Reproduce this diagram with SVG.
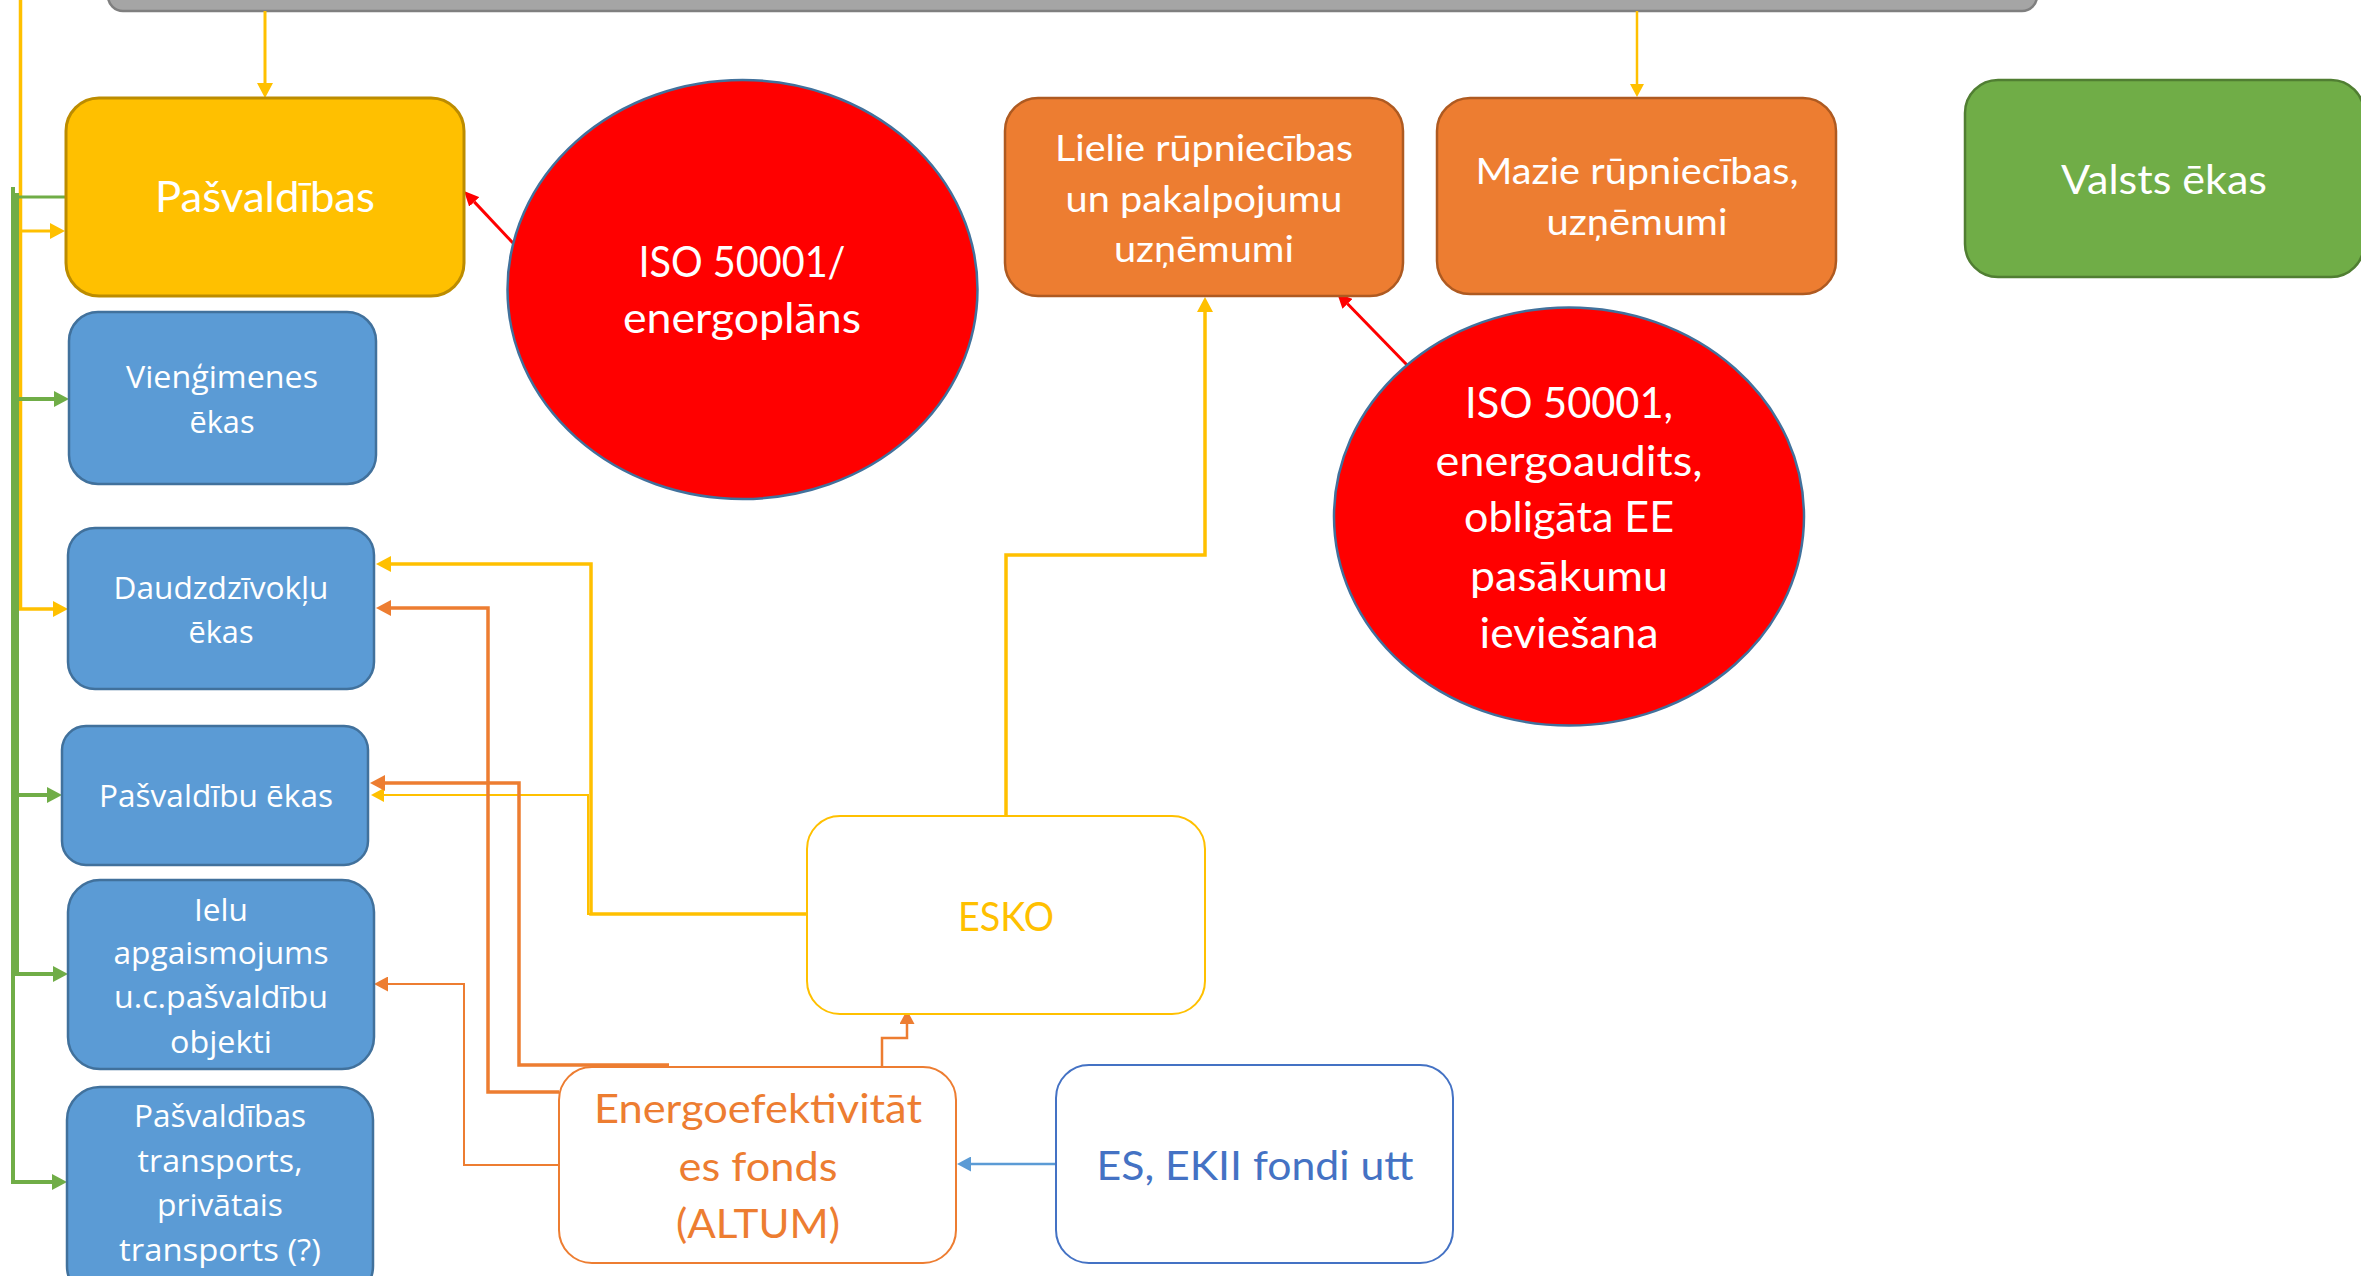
<svg xmlns="http://www.w3.org/2000/svg" width="2361" height="1276" viewBox="0 0 2361 1276">
  <style>
    .cal { font-family: "Lato", "Open Sans", "Liberation Sans", sans-serif; text-anchor: middle; }
    .seg { font-family: "Open Sans", "Noto Sans", "Liberation Sans", sans-serif; text-anchor: middle; font-size: 30.5px; fill: #ffffff; }
    .wt { fill: #ffffff; }
    .blue-box { fill: #5b9bd5; stroke: #41719c; stroke-width: 2.5; }
    .orange-box { fill: #ed7d31; stroke: #ae5a21; stroke-width: 2.5; }
    .circle { fill: #ff0000; stroke: #41719c; stroke-width: 2.5; }
    .conn { fill: none; stroke-linejoin: miter; }
    .y { stroke: #ffc000; }
    .g { stroke: #70ad47; }
    .o { stroke: #ed7d31; }
    .r { stroke: #ff0000; }
    .b { stroke: #5b9bd5; }
  </style>
  <defs>
    <marker id="ay" markerUnits="userSpaceOnUse" markerWidth="15" markerHeight="16" viewBox="0 0 15 16" refX="0" refY="8" orient="auto"><path d="M0,0 L15,8 L0,16 z" fill="#ffc000"/></marker>
    <marker id="ays" markerUnits="userSpaceOnUse" markerWidth="13" markerHeight="14" viewBox="0 0 13 14" refX="0" refY="7" orient="auto"><path d="M0,0 L13,7 L0,14 z" fill="#ffc000"/></marker>
    <marker id="ag" markerUnits="userSpaceOnUse" markerWidth="15" markerHeight="16" viewBox="0 0 15 16" refX="0" refY="8" orient="auto"><path d="M0,0 L15,8 L0,16 z" fill="#70ad47"/></marker>
    <marker id="ao" markerUnits="userSpaceOnUse" markerWidth="15" markerHeight="16" viewBox="0 0 15 16" refX="0" refY="8" orient="auto"><path d="M0,0 L15,8 L0,16 z" fill="#ed7d31"/></marker>
    <marker id="aos" markerUnits="userSpaceOnUse" markerWidth="14" markerHeight="15" viewBox="0 0 14 15" refX="0" refY="7.5" orient="auto"><path d="M0,0 L14,7.5 L0,15 z" fill="#ed7d31"/></marker>
    <marker id="ar" markerUnits="userSpaceOnUse" markerWidth="15" markerHeight="14" viewBox="0 0 15 14" refX="0" refY="7" orient="auto"><path d="M0,0 L15,7 L0,14 z" fill="#ff0000"/></marker>
    <marker id="ab" markerUnits="userSpaceOnUse" markerWidth="14" markerHeight="15" viewBox="0 0 14 15" refX="0" refY="7.5" orient="auto"><path d="M0,0 L14,7.5 L0,15 z" fill="#5b9bd5"/></marker>
  </defs>

  <rect width="2361" height="1276" fill="#ffffff"/>

  <!-- top bar (cut by the page edge) -->
  <g id="top-bar">
    <rect x="108" y="-40" width="1929" height="51" rx="15" fill="#a5a5a5" stroke="#7f7f7f" stroke-width="2.5"/>
  </g>

  <!-- connectors -->
  <g id="connectors">
    <!-- yellow -->
    <path class="conn y" stroke-width="3" d="M265,11 V83" marker-end="url(#ay)"/>
    <path class="conn y" stroke-width="2.5" d="M1637,11 V84" marker-end="url(#ays)"/>
    <path class="conn y" stroke-width="3.5" d="M20.5,-5 V609 H53" marker-end="url(#ay)"/>
    <path class="conn y" stroke-width="3" d="M20.5,231 H50" marker-end="url(#ay)"/>
    <path class="conn y" stroke-width="3.5" d="M1006,816 V555 H1205 V312" marker-end="url(#ay)"/>
    <path class="conn y" stroke-width="3.5" d="M807,914 H591 V564 H391" marker-end="url(#ay)"/>
    <path class="conn y" stroke-width="2" d="M591,914 H588 V795 H384" marker-end="url(#ays)"/>
    <!-- green -->
    <path class="conn g" stroke-width="3" d="M66,197 H13"/>
    <path class="conn g" stroke-width="4" d="M13,187 V1182 H52" marker-end="url(#ag)"/>
    <path class="conn g" stroke-width="4" d="M17,193 V974 H53" marker-end="url(#ag)"/>
    <path class="conn g" stroke-width="4" d="M17,399 H54" marker-end="url(#ag)"/>
    <path class="conn g" stroke-width="4" d="M17,795 H47" marker-end="url(#ag)"/>
    <!-- orange -->
    <path class="conn o" stroke-width="3.5" d="M559,1092 H488 V608 H391" marker-end="url(#ao)"/>
    <path class="conn o" stroke-width="3.5" d="M669,1065 H519 V783 H385" marker-end="url(#ao)"/>
    <path class="conn o" stroke-width="2" d="M559,1165 H464 V984 H388" marker-end="url(#aos)"/>
    <path class="conn o" stroke-width="2.5" d="M882,1067 V1038 H907 V1024" marker-end="url(#aos)"/>
    <!-- red -->
    <path class="conn r" stroke-width="3" d="M513,243 L474.3,201.9" marker-end="url(#ar)"/>
    <path class="conn r" stroke-width="3" d="M1408,366 L1347.5,303.8" marker-end="url(#ar)"/>
    <!-- blue -->
    <path class="conn b" stroke-width="2.5" d="M1056,1164 H971" marker-end="url(#ab)"/>
  </g>

  <g id="pasvaldibas">
    <rect x="66" y="98" width="398" height="198" rx="33" fill="#ffc000" stroke="#bc8c00" stroke-width="3"/>
    <text class="cal wt" x="265" y="212" font-size="42" textLength="220" lengthAdjust="spacingAndGlyphs">Pašvaldības</text>
  </g>

  <g id="vienģimenes">
    <rect class="blue-box" x="69" y="312" width="307" height="172" rx="29"/>
    <text class="seg" x="222" y="388" textLength="192" lengthAdjust="spacingAndGlyphs">Vienģimenes</text>
    <text class="seg" x="222" y="433" textLength="65" lengthAdjust="spacingAndGlyphs">ēkas</text>
  </g>

  <g id="daudzdzivoklu">
    <rect class="blue-box" x="68" y="528" width="306" height="161" rx="27"/>
    <text class="seg" x="221" y="599" textLength="215" lengthAdjust="spacingAndGlyphs">Daudzdzīvokļu</text>
    <text class="seg" x="221" y="642.5" textLength="65" lengthAdjust="spacingAndGlyphs">ēkas</text>
  </g>

  <g id="pasvaldibu-ekas">
    <rect class="blue-box" x="62" y="726" width="306" height="139" rx="24"/>
    <text class="seg" x="216" y="807" textLength="234" lengthAdjust="spacingAndGlyphs">Pašvaldību ēkas</text>
  </g>

  <g id="ielu-apgaismojums">
    <rect class="blue-box" x="68" y="880" width="306" height="189" rx="32"/>
    <text class="seg" x="221" y="920.6" textLength="54" lengthAdjust="spacingAndGlyphs">Ielu</text>
    <text class="seg" x="221" y="963.6" textLength="215" lengthAdjust="spacingAndGlyphs">apgaismojums</text>
    <text class="seg" x="221" y="1008" textLength="214" lengthAdjust="spacingAndGlyphs">u.c.pašvaldību</text>
    <text class="seg" x="221" y="1052.7" textLength="102" lengthAdjust="spacingAndGlyphs">objekti</text>
  </g>

  <g id="transports">
    <rect class="blue-box" x="67" y="1087" width="306" height="212" rx="33"/>
    <text class="seg" x="220" y="1127" textLength="172" lengthAdjust="spacingAndGlyphs">Pašvaldības</text>
    <text class="seg" x="220" y="1171.5" textLength="165" lengthAdjust="spacingAndGlyphs">transports,</text>
    <text class="seg" x="220" y="1216" textLength="126" lengthAdjust="spacingAndGlyphs">privātais</text>
    <text class="seg" x="220" y="1260.5" textLength="202" lengthAdjust="spacingAndGlyphs">transports (?)</text>
  </g>

  <g id="iso-energoplans">
    <ellipse class="circle" cx="742.5" cy="289.5" rx="235" ry="209.5"/>
    <text class="cal wt" x="742" y="277" font-size="42" textLength="207" lengthAdjust="spacingAndGlyphs">ISO 50001/</text>
    <text class="cal wt" x="742" y="333" font-size="42" textLength="238" lengthAdjust="spacingAndGlyphs">energoplāns</text>
  </g>

  <g id="lielie-uznemumi">
    <rect class="orange-box" x="1005" y="98" width="398" height="198" rx="33"/>
    <text class="cal wt" x="1204" y="161" font-size="37" textLength="298" lengthAdjust="spacingAndGlyphs">Lielie rūpniecības</text>
    <text class="cal wt" x="1204" y="212" font-size="37" textLength="277" lengthAdjust="spacingAndGlyphs">un pakalpojumu</text>
    <text class="cal wt" x="1204" y="262" font-size="37" textLength="180" lengthAdjust="spacingAndGlyphs">uzņēmumi</text>
  </g>

  <g id="mazie-uznemumi">
    <rect class="orange-box" x="1437" y="98" width="399" height="196" rx="33"/>
    <text class="cal wt" x="1637" y="184" font-size="37" textLength="323" lengthAdjust="spacingAndGlyphs">Mazie rūpniecības,</text>
    <text class="cal wt" x="1637" y="235" font-size="37" textLength="181" lengthAdjust="spacingAndGlyphs">uzņēmumi</text>
  </g>

  <g id="valsts-ekas">
    <rect x="1965" y="80" width="399" height="197" rx="33" fill="#70ad47" stroke="#507e32" stroke-width="2.5"/>
    <text class="cal wt" x="2164" y="194" font-size="40" textLength="206" lengthAdjust="spacingAndGlyphs">Valsts ēkas</text>
  </g>

  <g id="iso-energoaudits">
    <ellipse class="circle" cx="1569" cy="516.5" rx="235" ry="209"/>
    <text class="cal wt" x="1569" y="418" font-size="42" textLength="208" lengthAdjust="spacingAndGlyphs">ISO 50001,</text>
    <text class="cal wt" x="1569" y="476" font-size="42" textLength="267" lengthAdjust="spacingAndGlyphs">energoaudits,</text>
    <text class="cal wt" x="1569" y="532" font-size="42" textLength="210" lengthAdjust="spacingAndGlyphs">obligāta EE</text>
    <text class="cal wt" x="1569" y="591" font-size="42" textLength="198" lengthAdjust="spacingAndGlyphs">pasākumu</text>
    <text class="cal wt" x="1569" y="648" font-size="42" textLength="179" lengthAdjust="spacingAndGlyphs">ieviešana</text>
  </g>

  <g id="esko">
    <rect x="807" y="816" width="398" height="198" rx="33" fill="#ffffff" stroke="#ffc000" stroke-width="2"/>
    <text class="cal" x="1006" y="930.5" font-size="41" fill="#ffc000" textLength="96" lengthAdjust="spacingAndGlyphs">ESKO</text>
  </g>

  <g id="energoefektivitates-fonds">
    <rect x="559" y="1067" width="397" height="196" rx="33" fill="#ffffff" stroke="#ed7d31" stroke-width="2"/>
    <text class="cal" x="758" y="1123" font-size="41" fill="#ed7d31" textLength="328" lengthAdjust="spacingAndGlyphs">Energoefektivitāt</text>
    <text class="cal" x="758" y="1181" font-size="41" fill="#ed7d31" textLength="159" lengthAdjust="spacingAndGlyphs">es fonds</text>
    <text class="cal" x="758" y="1238" font-size="41" fill="#ed7d31" textLength="164" lengthAdjust="spacingAndGlyphs">(ALTUM)</text>
  </g>

  <g id="es-fondi">
    <rect x="1056" y="1065" width="397" height="198" rx="33" fill="#ffffff" stroke="#4472c4" stroke-width="2"/>
    <text class="cal" x="1255" y="1180" font-size="41" fill="#4472c4" textLength="317" lengthAdjust="spacingAndGlyphs">ES, EKII fondi utt</text>
  </g>
</svg>
